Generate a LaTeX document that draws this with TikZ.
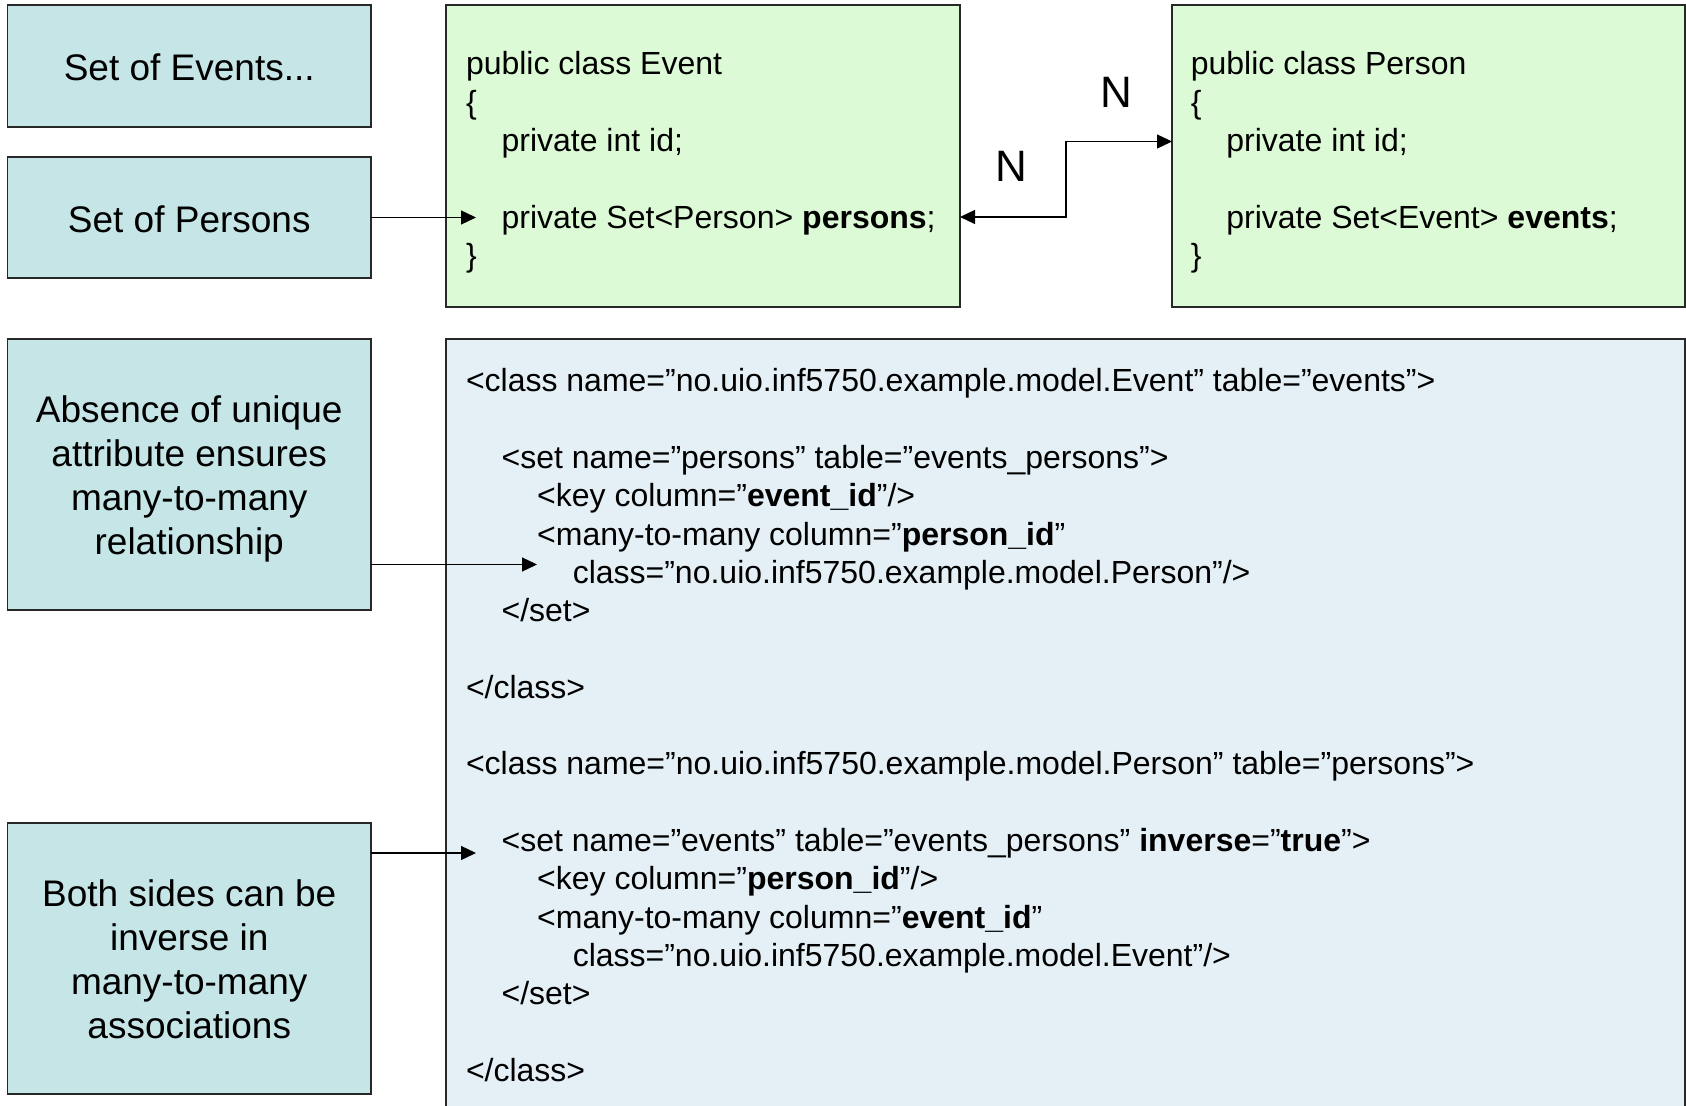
\documentclass[tikz,border=0pt]{standalone}
\usepackage{fontspec}
\setmainfont{Liberation Sans}
\usetikzlibrary{arrows.meta}
\definecolor{leftbg}{RGB}{197,229,231}
\definecolor{classbg}{RGB}{221,250,214}
\definecolor{xmlbg}{RGB}{228,240,245}
\definecolor{edgecol}{RGB}{40,40,40}
\newcommand\lvA{\hspace*{1.112em}}
\newcommand\lvB{\hspace*{2.224em}}
\newcommand\lvC{\hspace*{3.336em}}
\begin{document}
\begin{tikzpicture}[x=0.5pt,y=-0.5pt,
  box/.style={draw=edgecol, line width=0.7pt, anchor=north west, inner sep=0pt, outer sep=0pt},
  note/.style={box, fill=leftbg, minimum width=181.75pt},
  notetext/.style={align=center, inner sep=0pt, font=\fontsize{18.5}{22}\selectfont},
  code/.style={anchor=base west, inner sep=0pt, font=\fontsize{16}{19.2}\selectfont},
  tipA/.tip={Triangle[length=7.5pt,width=7pt]},
  arr/.style={-tipA, line width=0.65pt, black},
  arrboth/.style={tipA-tipA, line width=0.65pt, black},
  mult/.style={font=\fontsize{22}{26}\selectfont, inner sep=0pt}
]
\useasboundingbox (0,0) rectangle (1686,1106);
\clip (0,0) rectangle (1686,1106);

% left notes
\node[note, minimum height=61pt] (evs) at (7.5,5) {};
\node[notetext] (evst) at ([yshift=-0.5pt]evs.center) {Set of Events...};
\node[note, minimum height=60.5pt] (pers) at (7.5,157) {};
\node[notetext] (perst) at ([yshift=-1pt]pers.center) {Set of Persons};
\node[note, minimum height=135.5pt] (absn) at (7.5,339) {};
\node[notetext] (absnt) at ([yshift=-2pt]absn.center) {Absence of unique\\attribute ensures\\many-to-many\\relationship};
\node[note, minimum height=135.5pt] (both) at (7.5,823) {};
\node[notetext] (botht) at ([yshift=-0.5pt]both.center) {Both sides can be\\inverse in\\many-to-many\\associations};

% class boxes
\node[box, fill=classbg, minimum width=257pt, minimum height=151pt] (evc) at (446,5) {};
\node[code] (evt) at (465.6,75) {\begin{tabular}[t]{@{}l@{}}public class Event\\
\{\\
\lvA private int id;\\
\\
\lvA private Set<Person> \textbf{persons};\\
\}\end{tabular}};

\node[box, fill=classbg, minimum width=256.5pt, minimum height=151pt] (pec) at (1172,5) {};
\node[code] (pet) at (1190.4,75) {\begin{tabular}[t]{@{}l@{}}public class Person\\
\{\\
\lvA private int id;\\
\\
\lvA private Set<Event> \textbf{events};\\
\}\end{tabular}};

% xml box
\node[box, fill=xmlbg, minimum width=619.5pt, minimum height=395pt] (xml) at (446,339) {};
\node[code, font=\fontsize{16}{19.15}\selectfont] (xmlt) at (465.6,392) {\begin{tabular}[t]{@{}l@{}}<class name=”no.uio.inf5750.example.model.Event” table=”events”>\\
\\
\lvA <set name=”persons” table=”events\_persons”>\\
\lvB <key column=”\textbf{event\_id}”/>\\
\lvB <many-to-many column=”\textbf{person\_id}”\\
\lvC class=”no.uio.inf5750.example.model.Person”/>\\
\lvA </set>\\
\\
</class>\\
\\
<class name=”no.uio.inf5750.example.model.Person” table=”persons”>\\
\\
\lvA <set name=”events” table=”events\_persons” \textbf{inverse}=”\textbf{true}”>\\
\lvB <key column=”\textbf{person\_id}”/>\\
\lvB <many-to-many column=”\textbf{event\_id}”\\
\lvC class=”no.uio.inf5750.example.model.Event”/>\\
\lvA </set>\\
\\
</class>\end{tabular}};

% connectors
\coordinate (t1) at (476,217.5);
\draw[arr] (pers.east) -- (t1);

\coordinate (e1) at (960,217);
\coordinate (p1) at (1172,141.5);
\coordinate (bend) at (1066,217);
\draw[arrboth] (e1) -- (bend) |- (p1);

\coordinate (t2) at (537,564.5);
\draw[arr] (absn.east |- t2) -- (t2);

\coordinate (t3) at (476,853);
\draw[arr] (both.east |- t3) -- (t3);

% multiplicities
\node[mult] (n1) at (1116.5,92.5) {N};
\node[mult] (n2) at (1011.5,166.5) {N};
\end{tikzpicture}
\end{document}
